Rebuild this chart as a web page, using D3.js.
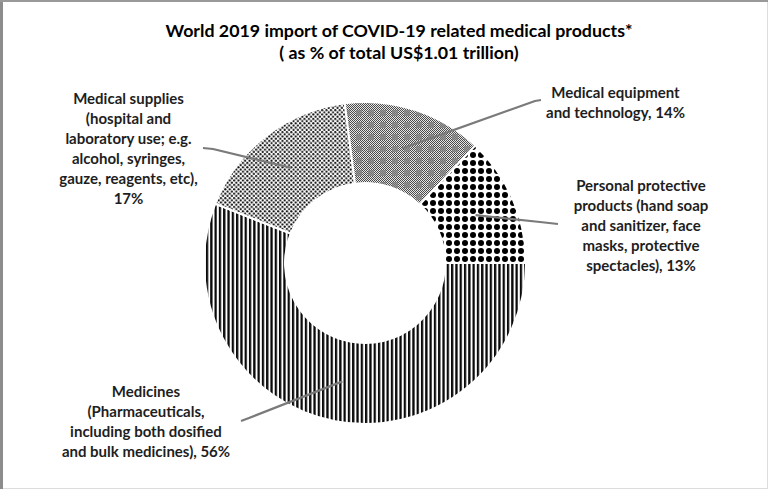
<!DOCTYPE html>
<html><head><meta charset="utf-8">
<script src="https://cdn.jsdelivr.net/npm/d3@7"></script>
<style>body{margin:0;background:#fff}svg{display:block}</style>
</head><body>
<svg id="c" width="768" height="489"></svg>
<script>
// ---- data ----
const categories = ["Medicines", "Medical supplies", "Medical equipment", "Personal protective products"];
const values = [56, 17, 14, 13];
const labelLines = [
  ["Medicines", "(Pharmaceuticals,", "including both dosified", "and bulk medicines), 56%"],
  ["Medical supplies", "(hospital and", "laboratory use; e.g.", "alcohol, syringes,", "gauze, reagents, etc),", "17%"],
  ["Medical equipment", "and technology, 14%"],
  ["Personal protective", "products (hand soap", "and sanitizer, face", "masks, protective", "spectacles), 13%"]
];
const titleLines = ["World 2019 import of COVID-19 related medical products*", "( as % of total US$1.01 trillion)"];

// ---- layout ----
const W = 768, H = 489;
const cx = 365, cy = 263, R = 161, r = 80;
const patterns = ["pVert", "pDots", "pGrid", "pBig"];
const labelPos = [
  {x: 146, y: 392, elbow: [249, 418], end: [241, 421]},
  {x: 128.5, y: 99, elbow: [213, 149], end: [203, 148]},
  {x: 615.5, y: 93, elbow: [535, 101], end: [541, 100]},
  {x: 641, y: 186, elbow: [540, 222], end: [558, 224]}
];
const lineH = 19.9;

const svg = d3.select("#c");
svg.append("rect").attr("width", W).attr("height", H).attr("fill", "#fff");

const defs = svg.append("defs");
// vertical stripes
const pv = defs.append("pattern").attr("id", "pVert").attr("patternUnits", "userSpaceOnUse").attr("width", 4.3).attr("height", 8);
pv.append("rect").attr("width", 4.3).attr("height", 8).attr("fill", "#fff");
pv.append("rect").attr("width", 2.3).attr("height", 8).attr("fill", "#0a0a0a");
// small dots
const pd = defs.append("pattern").attr("id", "pDots").attr("patternUnits", "userSpaceOnUse").attr("width", 4.4).attr("height", 4.4);
pd.append("rect").attr("width", 4.4).attr("height", 4.4).attr("fill", "#fff");
pd.append("circle").attr("cx", 1.1).attr("cy", 1.1).attr("r", 1.1).attr("fill", "#111");
pd.append("circle").attr("cx", 3.3).attr("cy", 3.3).attr("r", 1.1).attr("fill", "#111");
// checker
const pc = defs.append("pattern").attr("id", "pChk").attr("patternUnits", "userSpaceOnUse").attr("width", 2).attr("height", 2);
pc.append("rect").attr("width", 2).attr("height", 2).attr("fill", "#e6e6e6");
pc.append("rect").attr("width", 1).attr("height", 1).attr("fill", "#4a4a4a");
pc.append("rect").attr("x", 1).attr("y", 1).attr("width", 1).attr("height", 1).attr("fill", "#4a4a4a");
const pg = defs.append("pattern").attr("id", "pGrid").attr("patternUnits", "userSpaceOnUse").attr("width", 12).attr("height", 12);
pg.append("rect").attr("width", 12).attr("height", 12).attr("fill", "url(#pChk)");
pg.append("rect").attr("x", 3).attr("y", 3).attr("width", 6).attr("height", 6).attr("fill", "#808080").attr("opacity", 0.75);
// big dots
const pb = defs.append("pattern").attr("id", "pBig").attr("patternUnits", "userSpaceOnUse").attr("width", 8).attr("height", 8);
pb.append("rect").attr("width", 8).attr("height", 8).attr("fill", "#fff");
pb.append("circle").attr("cx", 4).attr("cy", 4).attr("r", 3).attr("fill", "#000");

// border
svg.append("rect").attr("x", 0.5).attr("y", 0.5).attr("width", W - 1).attr("height", H - 1)
  .attr("fill", "none").attr("stroke", "#ddd").attr("stroke-width", 1);
svg.append("rect").attr("x", 0).attr("y", 0).attr("width", 3).attr("height", H).attr("fill", "#8c8c8c");
svg.append("rect").attr("x", 0).attr("y", 0).attr("width", W).attr("height", 2).attr("fill", "#999");

// pie
const pie = d3.pie().sort(null).value(d => d).startAngle(Math.PI / 2).endAngle(Math.PI / 2 + 2 * Math.PI);
const arcs = pie(values);
const arc = d3.arc().innerRadius(r).outerRadius(R);
const g = svg.append("g").attr("transform", `translate(${cx},${cy})`);
g.selectAll("path.slice").data(arcs).join("path")
  .attr("class", "slice")
  .attr("d", arc)
  .attr("fill", (d, i) => `url(#${patterns[i]})`)
  .attr("stroke", "#fff").attr("stroke-width", 2);

// leader lines
const line = d3.line();
arcs.forEach((d, i) => {
  const c = arc.centroid(d);
  const p = labelPos[i];
  svg.append("path")
    .attr("d", line([[cx + c[0], cy + c[1]], p.elbow, p.end]))
    .attr("fill", "none").attr("stroke", "#7a7a7a").attr("stroke-width", 2.2)
    .attr("stroke-linejoin", "round");
});

// labels
labelLines.forEach((lines, i) => {
  const p = labelPos[i];
  const t = svg.append("text").attr("text-anchor", "middle")
    .attr("font-family", "Lato, 'Open Sans', sans-serif").attr("font-weight", "bold")
    .attr("font-size", 15).attr("fill", "#1e1e1e");
  lines.forEach((s, k) => {
    t.append("tspan").attr("x", p.x).attr("y", p.y + k * lineH).attr("dy", "0.35em").text(s);
  });
});

// title
const tt = svg.append("text").attr("text-anchor", "middle")
  .attr("font-family", "Lato, 'Open Sans', sans-serif").attr("font-weight", "bold")
  .attr("font-size", 17.8).attr("fill", "#000");
titleLines.forEach((s, k) => {
  tt.append("tspan").attr("x", 399).attr("y", 31 + k * 21.5).attr("dy", "0.35em").text(s);
});
</script>
</body></html>
